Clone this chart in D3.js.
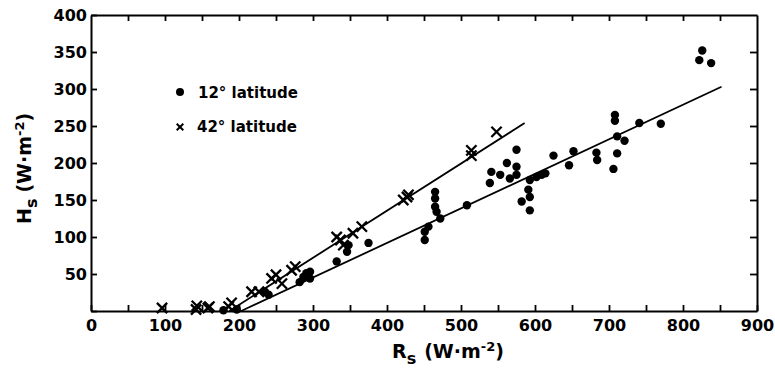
<!DOCTYPE html>
<html>
<head>
<meta charset="utf-8">
<script src="https://cdn.jsdelivr.net/npm/d3@7"></script>
<style>
  html, body { margin: 0; padding: 0; background: #fff; }
  svg { display: block; }
  text { font-family: "DejaVu Sans", sans-serif; font-weight: bold; fill: #000; }
</style>
</head>
<body>
<svg id="chart" width="775" height="371"></svg>
<script>
// ---- data ----
const xTicks = [0, 100, 200, 300, 400, 500, 600, 700, 800, 900];
const yTicks = [50, 100, 150, 200, 250, 300, 350, 400];
const seriesNames = ["12\u00b0 latitude", "42\u00b0 latitude"];

// 12° latitude (dots): [Rs, Hs]
const lat12 = [
  [179, 1], [197, 2], [235, 26], [240, 22], [282, 39], [287, 46], [291, 51], [296, 44], [296, 53],
  [332, 67], [346, 80], [348, 89], [375, 92],
  [451, 96], [451, 107], [456, 114], [472, 125], [467, 134], [465, 141], [465, 152], [465, 161],
  [508, 143], [539, 173], [541, 188], [553, 184], [562, 200], [566, 179], [575, 195], [575, 184], [575, 218],
  [582, 148], [593, 136], [593, 154], [591, 164], [593, 177], [602, 181], [609, 184], [614, 186],
  [625, 210], [646, 197], [652, 216], [683, 214], [684, 204], [706, 192], [711, 213], [711, 236], [721, 230],
  [708, 257], [708, 265], [741, 254], [770, 253], [822, 339], [826, 352], [838, 335]
];
// 42° latitude (crosses): [Rs, Hs]
const lat42 = [
  [96, 4], [142, 2], [143, 7], [158, 4], [160, 6], [186, 6], [190, 11], [217, 26], [227, 26],
  [244, 44], [250, 49], [258, 37], [271, 55], [276, 60],
  [332, 100], [337, 96], [341, 89], [354, 105], [366, 114],
  [422, 150], [427, 154], [429, 157], [514, 210], [514, 217], [548, 242]
];
// fitted lines: [[x0,y0],[x1,y1]]
const line12 = [[203, 0], [852, 303]];
const line42 = [[187, 0], [586, 254]];

// ---- drawing ----
const svg = d3.select("#chart");
const x = d3.scaleLinear().domain([0, 900]).range([91, 757]);
const y = d3.scaleLinear().domain([0, 400]).range([311, 15]);

const axisStyle = g => {
  g.select(".domain").attr("stroke", "#000").attr("stroke-width", 2);
  g.selectAll(".tick line").attr("stroke", "#000").attr("stroke-width", 1.8);
  g.selectAll(".tick text").style("font-size", "16px").style("font-weight", "bold")
    .style("font-family", "'DejaVu Sans', sans-serif");
};
const xMinor = d3.range(0, 901, 50);
const yMinor = d3.range(0, 401, 50);

// bottom
svg.append("g").attr("transform", `translate(0,${y(0)})`)
  .call(d3.axisBottom(x).tickValues(xMinor).tickSizeInner(-6).tickSizeOuter(0).tickPadding(9)
    .tickFormat(d => xTicks.includes(d) ? d : ""))
  .call(axisStyle);
// top
svg.append("g").attr("transform", `translate(0,${y(400)})`)
  .call(d3.axisTop(x).tickValues(xMinor.filter(d => d > 0 && d < 900)).tickSizeInner(-6).tickSizeOuter(0).tickFormat(""))
  .call(axisStyle);
// left
svg.append("g").attr("transform", `translate(${x(0)},0)`)
  .call(d3.axisLeft(y).tickValues(yMinor).tickSizeInner(-6).tickSizeOuter(0).tickPadding(4)
    .tickFormat(d => yTicks.includes(d) ? d : ""))
  .call(axisStyle);
// right
svg.append("g").attr("transform", `translate(${x(900)},0)`)
  .call(d3.axisRight(y).tickValues(yMinor.filter(d => d > 0 && d < 400)).tickSizeInner(-7).tickSizeOuter(0).tickFormat(""))
  .call(axisStyle);

// regression lines
const lineGen = d3.line().x(d => x(d[0])).y(d => y(d[1]));
[line12, line42].forEach(l => {
  svg.append("path").attr("d", lineGen(l)).attr("fill", "none")
    .attr("stroke", "#000").attr("stroke-width", 1.8);
});

// dots
svg.append("g").selectAll("circle").data(lat12).join("circle")
  .attr("cx", d => x(d[0])).attr("cy", d => y(d[1])).attr("r", 4.2).attr("fill", "#000");

// crosses
const cross = d3.symbol().type(d3.symbolTimes).size(70);
svg.append("g").selectAll("path").data(lat42).join("path")
  .attr("d", cross)
  .attr("transform", d => `translate(${x(d[0])},${y(d[1])})`)
  .attr("fill", "none").attr("stroke", "#000").attr("stroke-width", 2.3);

// legend
svg.append("circle").attr("cx", 180).attr("cy", 92).attr("r", 4).attr("fill", "#000");
svg.append("text").attr("x", 198).attr("y", 98).style("font-size", "15px").text(seriesNames[0]);
svg.append("path").attr("d", d3.symbol().type(d3.symbolTimes).size(30)())
  .attr("transform", "translate(180,127)").attr("fill", "none").attr("stroke", "#000").attr("stroke-width", 2);
svg.append("text").attr("x", 197).attr("y", 132).style("font-size", "15px").text(seriesNames[1]);

// axis titles
const xt = svg.append("text").attr("x", 392).attr("y", 358).style("font-size", "19px");
xt.append("tspan").text("R");
xt.append("tspan").attr("dy", 6).style("font-size", "16px").text("s");
xt.append("tspan").attr("dy", -6).attr("dx", 8).text("(W\u00b7m");
xt.append("tspan").attr("dy", -7).style("font-size", "13px").text("-2");
xt.append("tspan").attr("dy", 7).text(")");

const yt = svg.append("text").attr("transform", "translate(31,224) rotate(-90)").style("font-size", "19px");
yt.append("tspan").text("H");
yt.append("tspan").attr("dy", 6).style("font-size", "16px").text("s");
yt.append("tspan").attr("dy", -6).attr("dx", 6).text("(W\u00b7m");
yt.append("tspan").attr("dy", -7).style("font-size", "13px").text("-2");
yt.append("tspan").attr("dy", 7).text(")");
</script>
</body>
</html>
